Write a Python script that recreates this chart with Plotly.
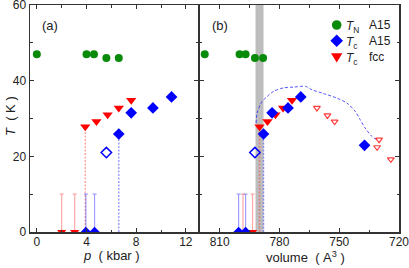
import plotly.graph_objects as go

# ---------------- data: panel (a), pressure (kbar) ----------------
p_TN_A15 = [0.0, 4.0, 4.6, 5.6, 6.6]
TN_A15 = [47.0, 47.0, 47.0, 46.0, 46.0]
p_Tc_fcc = [3.9, 4.8, 5.7, 6.6, 7.6]
Tc_fcc = [27.8, 29.2, 31.0, 32.8, 34.8]
p_Tc_A15 = [6.6, 7.6, 9.35, 10.85]
Tc_A15 = [25.9, 31.5, 32.8, 35.7]
p_Tc_A15_open = [5.6]
Tc_A15_open = [21.0]
p_fcc_zero = [2.0, 3.05]
p_A15_zero = [3.95, 4.65]
T_upper_limit = 10.0

# ---------------- data: panel (b), volume (A^3) ----------------
v_TN_A15 = [817.5, 800.0, 797.0, 792.3, 788.2]
v_Tc_fcc = [790.0, 786.0, 782.0, 778.2, 773.7]
v_Tc_A15 = [788.0, 783.7, 775.7, 769.3, 737.3]
Tc_A15_b = [25.9, 31.5, 32.8, 35.7, 22.9]
v_Tc_A15_open = [792.3]
v_fcc_open = [761.2, 755.9, 752.3, 730.0, 731.0, 724.1]
Tc_fcc_open = [32.8, 30.8, 29.2, 24.4, 22.4, 19.2]
v_fcc_zero = [798.3, 793.5]
v_A15_zero = [800.5, 797.0]
v_curve = [791.7, 791.2, 788.7, 786.2, 782.9, 777.9, 772.9, 767.0, 763.7,
           757.9, 751.2, 746.2, 742.0, 739.5, 737.0, 733.7, 731.2]
T_curve = [28.8, 31.5, 34.5, 35.8, 37.2, 38.1, 38.3, 38.5, 37.6,
           36.6, 35.4, 34.1, 31.9, 29.7, 27.5, 25.3, 24.4]
band_v = [792.0, 788.0]

# axis ticks
y_ticks = [0, 20, 40, 60]
p_ticks = [0, 4, 8, 12]
v_ticks = [810, 780, 750, 720]

GREEN = "#0a8a0a"
BLUE = "#0000ff"
RED = "#ff0000"
LRED = "rgba(255,60,60,0.45)"
LBLUE = "rgba(40,40,255,0.45)"

fig = go.Figure()


def add_panel(xa, ya, xTN, xfcc, Tfcc, xA15, TA15, xA15o, xfz, xaz):
    # drop lines
    fig.add_trace(go.Scatter(x=[xfcc[0], xfcc[0]], y=[0, Tfcc[0]], mode="lines",
                             line=dict(color=LRED, width=1.5, dash="2px,1.5px"),
                             xaxis=xa, yaxis=ya, showlegend=False, hoverinfo="skip"))
    fig.add_trace(go.Scatter(x=[xA15[0], xA15[0]], y=[0, TA15[0]], mode="lines",
                             line=dict(color=LBLUE, width=1.5, dash="2px,1.5px"),
                             xaxis=xa, yaxis=ya, showlegend=False, hoverinfo="skip"))
    # zero points with upper-limit bars
    fig.add_trace(go.Scatter(x=xfz, y=[0] * len(xfz), mode="markers",
                             marker=dict(symbol="triangle-down", size=8, color=RED),
                             error_y=dict(type="data", symmetric=False,
                                          array=[T_upper_limit] * len(xfz),
                                          arrayminus=[0] * len(xfz),
                                          color=LRED, thickness=1.2, width=2),
                             xaxis=xa, yaxis=ya, showlegend=False, cliponaxis=True))
    fig.add_trace(go.Scatter(x=xaz, y=[0] * len(xaz), mode="markers",
                             marker=dict(symbol="diamond", size=8, color=BLUE),
                             error_y=dict(type="data", symmetric=False,
                                          array=[T_upper_limit] * len(xaz),
                                          arrayminus=[0] * len(xaz),
                                          color=LBLUE, thickness=1.2, width=2),
                             xaxis=xa, yaxis=ya, showlegend=False, cliponaxis=True))
    # T_N A15
    fig.add_trace(go.Scatter(x=xTN, y=TN_A15, mode="markers",
                             marker=dict(symbol="circle", size=8, color=GREEN),
                             xaxis=xa, yaxis=ya, showlegend=False))
    # open diamond
    fig.add_trace(go.Scatter(x=xA15o, y=Tc_A15_open, mode="markers",
                             marker=dict(symbol="diamond-open", size=8, color=BLUE,
                                         line=dict(width=1.5, color=BLUE)),
                             xaxis=xa, yaxis=ya, showlegend=False))
    # Tc fcc
    fig.add_trace(go.Scatter(x=xfcc, y=Tfcc, mode="markers",
                             marker=dict(symbol="triangle-down", size=9, color=RED),
                             xaxis=xa, yaxis=ya, showlegend=False))
    # Tc A15
    fig.add_trace(go.Scatter(x=xA15, y=TA15, mode="markers",
                             marker=dict(symbol="diamond", size=9, color=BLUE),
                             xaxis=xa, yaxis=ya, showlegend=False))


add_panel("x", "y", p_TN_A15, p_Tc_fcc, Tc_fcc, p_Tc_A15, Tc_A15, p_Tc_A15_open,
          p_fcc_zero, p_A15_zero)

# panel (b) extras: dashed curve and open fcc triangles
fig.add_trace(go.Scatter(x=v_curve, y=T_curve, mode="lines",
                         line=dict(color="rgba(30,30,255,0.75)", width=1,
                                   dash="3px,2px", shape="spline", smoothing=0.8),
                         xaxis="x2", yaxis="y2", showlegend=False, hoverinfo="skip"))
fig.add_trace(go.Scatter(x=v_fcc_open, y=Tc_fcc_open, mode="markers",
                         marker=dict(symbol="triangle-down-open", size=6,
                                     color="rgba(255,40,40,0.9)",
                                     line=dict(width=1.2)),
                         xaxis="x2", yaxis="y2", showlegend=False))
add_panel("x2", "y2", v_TN_A15, v_Tc_fcc, Tc_fcc, v_Tc_A15, Tc_A15_b, v_Tc_A15_open,
          v_fcc_zero, v_A15_zero)

# gray band
fig.add_shape(type="rect", xref="x2", yref="y2 domain", x0=band_v[0], x1=band_v[1],
              y0=0, y1=1, fillcolor="#bdbdbd", line=dict(width=0), layer="below")

FONT = "Liberation Sans, Arial, sans-serif"
TXT = "#222222"
LW = 1.5
split = 169 / 369
gap = LW / 369

ax_common = dict(showline=True, linecolor="#333333", linewidth=LW, mirror="ticks",
                 ticks="inside", ticklen=4, tickwidth=1, tickcolor="#333333",
                 showgrid=False, zeroline=False, automargin=False,
                 ticklabeloverflow="allow",
                 tickfont=dict(family=FONT, size=12, color=TXT))

fig.update_layout(
    width=409, height=268,
    margin=dict(l=30, r=10, t=5, b=36),
    paper_bgcolor="white", plot_bgcolor="white",
    showlegend=False, hovermode=False,
    xaxis=dict(domain=[0, split - gap / 2], range=[-0.55, 13], tickvals=p_ticks, anchor="y",
               ticklabelstandoff=-2,
               minor=dict(dtick=2, tick0=0, ticks="inside", ticklen=2.5,
                          tickcolor="#333333"),
               **ax_common),
    xaxis2=dict(domain=[split + gap / 2, 1], range=[820, 720], tickvals=v_ticks, anchor="y2",
                ticklabelstandoff=-2,
                minor=dict(dtick=15, tick0=720, ticks="inside", ticklen=2.5,
                           tickcolor="#333333"),
                **ax_common),
    yaxis=dict(domain=[0, 1], range=[0, 60], tickvals=y_ticks, anchor="x",
               minor=dict(dtick=10, tick0=0, ticks="inside", ticklen=2.5,
                          tickcolor="#333333"),
               **ax_common),
    yaxis2=dict(domain=[0, 1], range=[0, 60], tickvals=y_ticks, anchor="x2",
                showticklabels=False,
                minor=dict(dtick=10, tick0=0, ticks="inside", ticklen=2.5,
                           tickcolor="#333333"),
                **ax_common),
)


def px_x(px):
    return (px - 30) / 369


def px_y(py):
    return 1 - (py - 5) / 227


ann = []
ann.append(dict(text="<i>p</i>\u00a0\u00a0(\u00a0kbar\u00a0)", x=px_x(111), y=px_y(256)))
ann.append(dict(text="volume\u00a0\u00a0(\u00a0A<sup>3</sup>\u00a0)", x=px_x(305), y=px_y(256.5)))
ann.append(dict(text="<i>T</i>\u00a0\u00a0(\u00a0K\u00a0)", x=px_x(10), y=px_y(116), textangle=-90))
ann.append(dict(text="(a)", x=px_x(49.5), y=px_y(25)))
ann.append(dict(text="(b)", x=px_x(220), y=px_y(25)))
for a in ann:
    a.update(xref="paper", yref="paper", showarrow=False,
             font=dict(family=FONT, size=13, color=TXT), xanchor="center", yanchor="middle")

# legend (text annotations + symbol shapes)
leg_labels = [("N", "A15"), ("c", "A15"), ("c", "fcc")]
leg_rows = [25, 40.7, 56.7]
for (sub, name), ry in zip(leg_labels, leg_rows):
    ann.append(dict(text=f"<i>T</i><sub>{sub}</sub>", x=px_x(343.5), y=px_y(ry + 2),
                    xref="paper", yref="paper", showarrow=False, xanchor="left",
                    yanchor="middle", font=dict(family=FONT, size=12, color=TXT)))
    ann.append(dict(text=name, x=px_x(366.5), y=px_y(ry), xref="paper", yref="paper",
                    showarrow=False, xanchor="left", yanchor="middle",
                    font=dict(family=FONT, size=12, color=TXT)))
fig.update_layout(annotations=ann)

lx = px_x(336.7)
fig.add_shape(type="circle", xref="paper", yref="paper", xsizemode="pixel",
              ysizemode="pixel", xanchor=lx, yanchor=px_y(leg_rows[0]),
              x0=-4.8, x1=4.8, y0=-4.8, y1=4.8, fillcolor=GREEN, line=dict(width=0))
fig.add_shape(type="path", xref="paper", yref="paper", xsizemode="pixel",
              ysizemode="pixel", xanchor=lx, yanchor=px_y(leg_rows[1]),
              path="M0,6.3 L6.3,0 L0,-6.3 L-6.3,0 Z", fillcolor=BLUE, line=dict(width=0))
fig.add_shape(type="path", xref="paper", yref="paper", xsizemode="pixel",
              ysizemode="pixel", xanchor=lx, yanchor=px_y(leg_rows[2] + 1),
              path="M-5.7,4.5 L5.7,4.5 L0,-4.8 Z", fillcolor=RED, line=dict(width=0))

post = ("document.body.style.margin='0px';document.body.style.padding='0px';"
        "document.documentElement.style.margin='0px';")
fig.write_html("out.html", post_script=post,
               config={"displayModeBar": False, "staticPlot": True})
